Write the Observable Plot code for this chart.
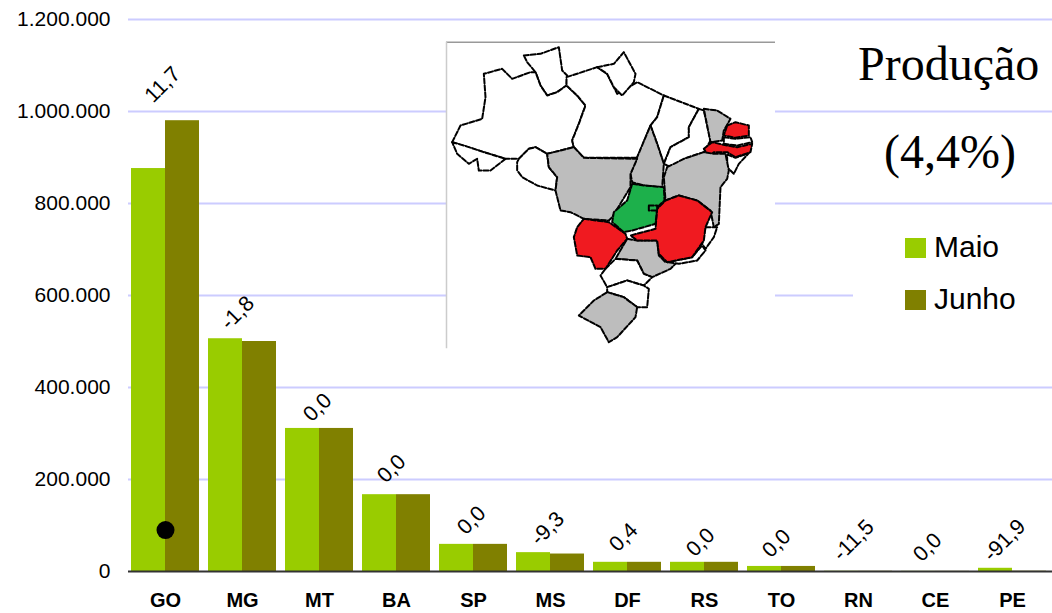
<!DOCTYPE html>
<html><head><meta charset="utf-8">
<script src="https://cdn.jsdelivr.net/npm/d3@7"></script>
<script src="https://cdn.jsdelivr.net/npm/@observablehq/plot@0.6"></script>
<style>
html,body{margin:0;padding:0;background:#fff}
#wrap{position:relative;width:1052px;height:613px;overflow:hidden;font-family:"Liberation Sans",Arial,sans-serif}
#wrap>*{position:absolute}
.t{font-family:"Liberation Serif","Times New Roman",serif;font-size:48px;line-height:1;color:#000;white-space:nowrap}
.l{font-size:30px;line-height:1;color:#000;white-space:nowrap}
.s{width:21px;height:20px}
</style></head><body>
<div id="wrap"></div>
<script>
const states = ["GO","MG","MT","BA","SP","MS","DF","RS","TO","RN","CE","PE"];
const maio   = [876000,506000,311000,167000,59000,41000,20000,20000,11000,500,300,7000];
const junho  = [980000,500000,311000,167000,59000,38000,20000,20000,11000,450,300,550];
const change = ["11,7","-1,8","0,0","0,0","0,0","-9,3","0,4","0,0","0,0","-11,5","0,0","-91,9"];
const yTicks = [0,200000,400000,600000,800000,1000000,1200000];
const seriesNames = ["Maio","Junho"];
const seriesColors = ["#99cc00","#808000"];
const marker = {state:"GO", value:90000};

// Brazilian state outlines (map units)
const mapShapes = [
 ["RR","w",[250,75,300,70,355,50,365,120,380,135,378,165,350,185,320,195,300,165,285,125,260,95]],
 ["AM","w",[35,335,60,285,125,265,135,200,130,130,185,115,215,145,270,125,285,125,300,165,320,195,350,185,378,165,410,195,435,225,415,280,395,330,400,350,320,370,285,350,265,355,235,385,195,385,130,365]],
 ["AC","w",[35,335,70,345,130,365,195,385,150,420,115,420,110,385,85,400,50,370]],
 ["RO","w",[235,385,265,355,285,350,320,370,325,410,350,440,345,480,290,465,245,440,230,420,230,395]],
 ["PA","w",[378,140,470,110,500,130,530,190,590,155,670,195,650,260,630,285,590,382,430,382,400,350,395,330,415,280,435,225,410,195,378,165]],
 ["AP","w",[470,110,520,100,550,65,585,130,580,155,545,195,520,170,500,130]],
 ["MA","w",[670,195,775,235,745,290,745,320,690,350,670,400,650,340,630,285,650,260]],
 ["PI","w",[775,235,790,240,810,330,790,365,730,385,710,415,680,405,670,400,690,350,745,320,745,290]],
 ["CE","g",[790,235,830,240,870,265,850,300,845,330,810,335]],
 ["PB","w",[850,320,885,325,930,320,935,335,890,345,850,340]],
 ["SE","w",[860,372,885,382,925,368,895,400,880,430,860,410]],
 ["RN","r",[860,285,885,275,925,285,925,315,885,322,850,315]],
 ["PE","r",[790,355,815,335,860,345,890,350,935,340,930,365,885,380,860,365,820,365,805,378]],
 ["BA","g",[680,410,730,385,790,365,820,370,855,370,865,420,860,445,840,470,835,580,820,590,810,540,770,510,715,495,675,510,670,440]],
 ["TO","g",[630,285,650,340,670,400,665,470,610,465,575,455,570,430,590,380]],
 ["MT","g",[320,370,400,350,430,382,590,385,570,430,570,470,515,560,505,570,430,565,390,545,360,540,345,480,350,440,325,410]],
 ["SP","g",[560,625,590,630,650,630,655,675,675,695,715,690,690,715,635,740,610,730,590,690,525,685]],
 ["ES","w",[795,590,830,590,820,620,795,655,785,640]],
 ["RJ","w",[680,695,755,680,785,645,795,660,770,690,715,700]],
 ["PR","w",[495,715,525,685,590,690,610,730,635,740,610,765,560,750,500,770,480,735]],
 ["SC","w",[500,770,560,750,610,765,625,775,620,830,590,830,550,800,500,785]],
 ["RS","g",[500,785,550,800,590,830,585,860,530,920,505,935,480,890,415,855,460,810]],
 ["MS","r",[430,565,505,575,555,610,560,625,530,660,495,715,465,715,450,680,410,675,400,620,410,590]],
 ["MG","r",[675,510,715,495,770,510,815,545,795,590,790,630,755,680,680,695,655,670,650,630,590,630,570,615,645,595,650,535]],
 ["GO","e",[575,460,610,465,670,470,672,510,650,530,645,580,575,600,550,605,515,575,520,545,560,510]],
 ["DF","e",[625,525,650,525,650,540,625,540]]
];

const fmt = d => d3.format(",")(d).replace(/,/g,".");
const rows = states.map((state,i)=>({state,maio:maio[i],junho:junho[i],change:change[i],top:Math.max(maio[i],junho[i])}));
const lifts = [36,26,21,26,24,24,25,20,23,31,24,28];
const shifts = [-3,-5,-2,-5,-2,-3,-4,-4,-5,-5,-8,-8];
const spaced = states.filter(s=>s[0]==="M");
const plain = states.filter(s=>s[0]!=="M");

const chart = Plot.plot({
  width:1052,height:613,marginTop:19,marginBottom:42,marginLeft:128,marginRight:0,
  style:{fontFamily:'"Liberation Sans",Arial,sans-serif',fontSize:"20px",color:"#000",background:"transparent"},
  x:{domain:states,range:[127,1051],paddingInner:0.115,paddingOuter:0.0575,label:null},
  y:{domain:[0,1200000],label:null},
  marks:[
    Plot.ruleY(yTicks.slice(1),{stroke:"#ccccff",strokeWidth:2}),
    Plot.barY(rows,{x:"state",y:"maio",fill:seriesColors[0],insetRight:34}),
    Plot.barY(rows,{x:"state",y:"junho",fill:seriesColors[1],insetLeft:34}),
    Plot.ruleY([0],{stroke:"#333",strokeWidth:2}),
    Plot.dot([marker],{x:"state",y:"value",r:9,fill:"#000"}),
    ...rows.map((r,i)=>Plot.text([r],{x:"state",y:"top",text:"change",rotate:-45,dy:-lifts[i],dx:shifts[i],fontSize:21.5,fill:"#000"})),
    Plot.axisY({ticks:yTicks,tickFormat:fmt,tickSize:0,tickPadding:18,marginLeft:128,fontSize:21,label:null}),
    Plot.axisX({ticks:plain,tickSize:0,tickPadding:21,fontWeight:"bold",fontSize:20,label:null}),
    Plot.axisX({ticks:spaced,tickSize:0,tickPadding:21,fontWeight:"bold",fontSize:20,letterSpacing:"3px",label:null})
  ]
});

const mapPoints = mapShapes.flatMap(([id,kind,c])=>{
  const out=[]; for(let i=0;i<c.length;i+=2) out.push({id,kind,x:c[i],y:c[i+1]});
  out.push({id,kind,x:c[0],y:c[1]}); return out;
});
const panelX=[18,1005], panelY=[35,955];
const map = Plot.plot({
  width:340,height:325,margin:0,
  style:{background:"transparent",filter:"blur(0.6px)"},
  x:{domain:[0,1020],axis:null},
  y:{domain:[975,0],axis:null},
  color:{domain:["w","g","r","e"],range:["#ffffff","#bdbdbd","#f01a20","#1db04b"]},
  marks:[
    Plot.rect([{}],{x1:panelX[0],x2:panelX[1],y1:panelY[0],y2:panelY[1],fill:"#fff"}),
    Plot.ruleY([panelY[0]],{x1:panelX[0],x2:panelX[1],stroke:"#999",strokeWidth:1.5}),
    Plot.ruleX([panelX[0]],{y1:panelY[0],y2:panelY[1],stroke:"#ccc",strokeWidth:1.5}),
    Plot.line(mapPoints,{x:"x",y:"y",z:"id",fill:"kind",stroke:"#000",strokeWidth:2,strokeDasharray:"5 2",curve:"linear"})
  ]
});

const wrap=document.getElementById("wrap");
chart.style.left="0";chart.style.top="0";wrap.append(chart);
map.style.left="440px";map.style.top="30px";wrap.append(map);
const add=(cls,txt,css)=>{const e=document.createElement("div");e.className=cls;e.textContent=txt;e.style.cssText=css;wrap.append(e);return e;};
add("","", "left:853px;top:285px;width:199px;height:20px;background:#fff");
add("t","Produção","left:858px;top:40px");
add("t","(4,4%)","left:884px;top:128px");
seriesNames.forEach((n,i)=>{
  add("s","",`left:905px;top:${238+i*52}px;background:${seriesColors[i]}`);
  add("l",n,`left:934px;top:${232+i*52}px`);
});
</script>
</body></html>
